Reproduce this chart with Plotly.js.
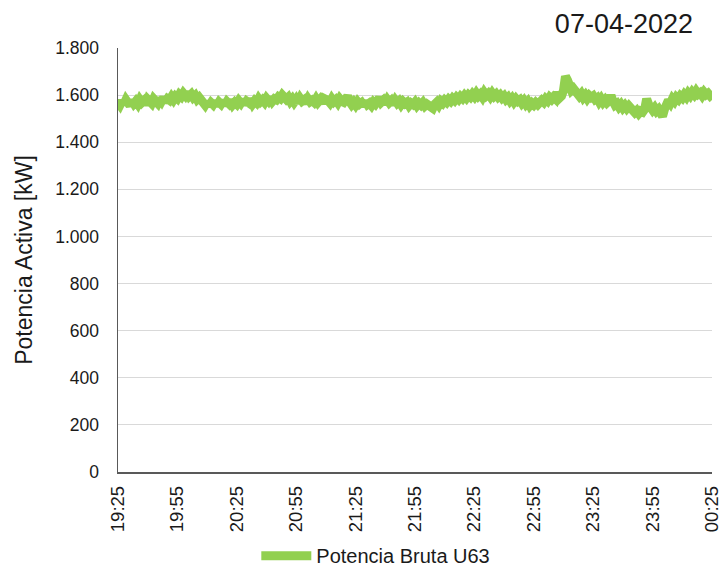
<!DOCTYPE html>
<html>
<head>
<meta charset="utf-8">
<script src="https://cdn.plot.ly/plotly-3.0.1.min.js"></script>
<style>html,body{margin:0;padding:0;background:#fff;}#chart{width:722px;height:567px;}</style>
</head>
<body>
<div id="chart"></div>
<script>
// Start time and sampling step (minutes)
const startTime = "2022-04-07 19:25";
const endTime = "2022-04-08 00:25";
const seriesName = "Potencia Bruta U63";
const chartTitle = "07-04-2022";
const yTitle = "Potencia Activa [kW]";

// Potencia Bruta U63 [kW], one reading per minute from 19:25 to 00:25
const potenciaBruta = [
  1570,1558,1575,1562,1580,1566,1556,1578,1564,1574,
  1562,1580,1568,1576,1560,1582,1570,1565,1584,1572,
  1566,1586,1574,1590,1570,1584,1578,1592,1580,1594,
  1586,1602,1594,1608,1598,1612,1596,1604,1590,1598,
  1582,1590,1572,1568,1558,1572,1555,1568,1560,1574,
  1556,1570,1562,1576,1558,1572,1564,1578,1560,1570,
  1562,1576,1566,1580,1560,1574,1568,1582,1564,1576,
  1568,1584,1572,1580,1570,1586,1576,1590,1574,1584,
  1580,1592,1586,1600,1588,1582,1590,1574,1584,1570,
  1582,1568,1586,1574,1580,1566,1584,1572,1578,1570,
  1584,1570,1580,1566,1586,1574,1578,1568,1584,1572,
  1580,1568,1584,1574,1570,1582,1596,1572,1560,1570,
  1558,1572,1562,1568,1555,1574,1560,1566,1556,1570,
  1562,1574,1588,1570,1578,1564,1580,1568,1576,1562,
  1578,1566,1574,1560,1572,1564,1570,1556,1566,1560,
  1570,1556,1566,1558,1568,1554,1562,1556,1548,1544,
  1562,1570,1558,1574,1566,1578,1570,1582,1574,1586,
  1578,1590,1582,1594,1586,1598,1588,1600,1592,1604,
  1594,1608,1596,1604,1592,1610,1598,1606,1594,1608,
  1596,1604,1592,1600,1588,1596,1582,1590,1576,1586,
  1572,1584,1574,1580,1566,1576,1562,1572,1556,1566,
  1558,1568,1560,1572,1578,1570,1584,1576,1590,1582,
  1592,1584,1612,1588,1596,1620,1680,1664,1630,1620,
  1628,1612,1604,1596,1606,1590,1600,1586,1598,1590,
  1596,1582,1588,1572,1584,1570,1580,1568,1576,1598,
  1574,1558,1564,1550,1560,1546,1556,1544,1554,1540,
  1536,1526,1534,1522,1532,1528,1540,1584,1560,1546,
  1536,1546,1532,1540,1526,1510,1540,1570,1578,1566,
  1584,1574,1590,1582,1596,1588,1602,1592,1608,1598,
  1612,1602,1616,1604,1610,1598,1612,1602,1608,1598,1606
];

// Time stamps for each reading
const t0 = new Date(startTime.replace(" ", "T") + ":00Z").getTime();
const pad = n => String(n).padStart(2, "0");
const times = potenciaBruta.map((_, i) => {
  const d = new Date(t0 + i * 60000);
  return d.getUTCFullYear() + "-" + pad(d.getUTCMonth() + 1) + "-" + pad(d.getUTCDate()) + " " +
         pad(d.getUTCHours()) + ":" + pad(d.getUTCMinutes());
});

const font = "Liberation Sans, Arial, sans-serif";
const axisColor = "#595959";
const textColor = "#1a1a1a";

const trace = {
  type: "scatter",
  mode: "lines",
  name: seriesName,
  x: times,
  y: potenciaBruta,
  line: {color: "#92D050", width: 9, shape: "linear"}
};

const layout = {
  width: 722,
  height: 567,
  margin: {l: 118, r: 10, t: 48, b: 95, autoexpand: false},
  paper_bgcolor: "#ffffff",
  plot_bgcolor: "#ffffff",
  separators: ",.",
  font: {family: font, color: textColor, size: 18},
  title: {
    text: chartTitle,
    font: {family: font, size: 27, color: textColor},
    xref: "paper", x: 0.968, xanchor: "right",
    yref: "container", y: 0.958, yanchor: "middle"
  },
  showlegend: true,
  legend: {
    orientation: "h",
    xref: "container", x: 0.355, xanchor: "left",
    yref: "container", y: 0.02, yanchor: "middle",
    font: {family: font, size: 20, color: textColor},
    bgcolor: "rgba(0,0,0,0)",
    itemwidth: 50
  },
  xaxis: {
    type: "date",
    range: [startTime, endTime],
    tick0: startTime,
    dtick: 30 * 60 * 1000,
    tickformat: "%H:%M",
    tickangle: -90,
    ticks: "",
    ticklabelstandoff: 5,
    ticklabeloverflow: "allow",
    showgrid: false,
    zeroline: false,
    showline: true,
    linecolor: axisColor,
    linewidth: 1.5,
    automargin: false,
    tickfont: {family: font, size: 18.5, color: textColor},
    fixedrange: true
  },
  yaxis: {
    range: [0, 1800],
    tick0: 0,
    dtick: 200,
    tickformat: ",d",
    separatethousands: true,
    ticks: "",
    ticklabelstandoff: 14,
    ticklabeloverflow: "allow",
    showgrid: true,
    gridcolor: "#d9d9d9",
    gridwidth: 1,
    zeroline: false,
    showline: true,
    linecolor: axisColor,
    linewidth: 1.5,
    tickfont: {family: font, size: 17.5, color: textColor},
    title: {text: yTitle, font: {family: font, size: 23, color: textColor}, standoff: 16},
    automargin: false,
    fixedrange: true
  }
};

Plotly.newPlot("chart", [trace], layout, {displayModeBar: false, staticPlot: true});
</script>
</body>
</html>
